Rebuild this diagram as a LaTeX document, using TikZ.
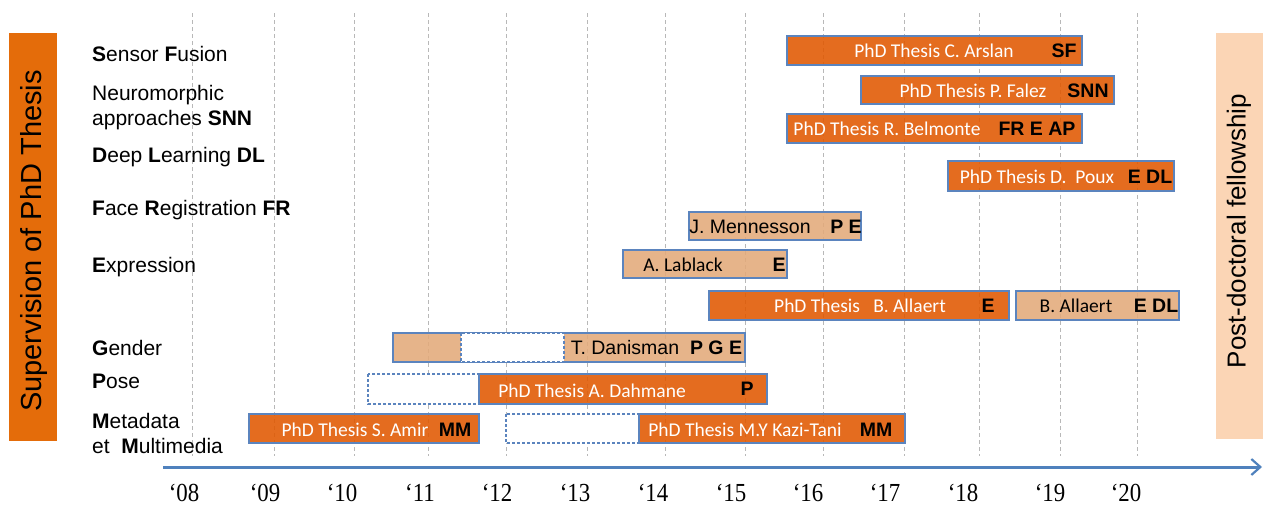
\documentclass[tikz,border=0pt]{standalone}
\usepackage{fontspec}
\setmainfont{Liberation Sans}
\newfontfamily\barfont{Carlito}
\newfontfamily\yearfont{Liberation Serif}
\usetikzlibrary{arrows.meta}
\definecolor{orng}{HTML}{E46C0A}
\definecolor{orngbase}{HTML}{E05800}
\definecolor{peachbase}{HTML}{E3AA7A}
\definecolor{lightpeach}{HTML}{FBD5B5}
\definecolor{bord}{HTML}{5B84BE}
\definecolor{axisblue}{HTML}{4F81BD}
\definecolor{gridgray}{HTML}{B8B8B8}
\begin{document}
\begin{tikzpicture}[x=1pt,y=-1pt,
  grid/.style={gridgray,line width=0.9pt,dash pattern=on 4pt off 3pt},
  obar/.style={fill=orngbase,fill opacity=0.88,draw=bord,line width=1.1pt},
  pbar/.style={fill=peachbase,fill opacity=0.88,draw=bord,line width=1.1pt},
  wbar/.style={fill=white,draw=bord,line width=1.1pt,dash pattern=on 3pt off 2pt},
  cat/.style={anchor=base west,inner sep=0pt,font=\fontsize{21}{24}\selectfont},
  wtxt/.style={anchor=base,inner sep=0pt,text=white,font=\barfont\fontsize{19.5}{22}\selectfont},
  ntxt/.style={anchor=base,inner sep=0pt,text=black,font=\barfont\fontsize{19.5}{22}\selectfont},
  atxt/.style={anchor=base,inner sep=0pt,text=black,font=\fontsize{19.5}{22}\selectfont},
  btxt/.style={anchor=base,inner sep=0pt,text=black,font=\bfseries\fontsize{19.5}{22}\selectfont},
  ytxt/.style={anchor=base,inner sep=0pt,font=\yearfont\fontsize{26}{30}\selectfont,xscale=0.88},
  axis/.style={axisblue,line width=3pt,-{Straight Barb[length=9pt,width=16pt,line width=2.2pt]}}
]
\useasboundingbox (0,0) rectangle (1265,506);

% side panels
\fill[orng] (9,33) rectangle (57,441);
\node[rotate=90,font=\fontsize{29}{32}\selectfont] (sup) at (34,241) {Supervision of PhD Thesis};
\fill[lightpeach] (1216,33) rectangle (1263,439);
\node[rotate=90,font=\fontsize{26}{30}\selectfont] (post) at (1239,231) {Post-doctoral fellowship};

% grid lines
\foreach \gx in {192,274,354,428,506,587,665,745,823,904,979,1060,1137}
  \draw[grid] (\gx,13) -- (\gx,456);

% category labels
\node[cat] (sf) at (92,61) {\textbf{S}ensor \textbf{F}usion};
\node[cat] (nm1) at (92,100) {Neuromorphic};
\node[cat] (nm2) at (92,125) {approaches \textbf{SNN}};
\node[cat] (dl) at (92,162) {\textbf{D}eep \textbf{L}earning \textbf{DL}};
\node[cat] (fr) at (92,215) {\textbf{F}ace \textbf{R}egistration \textbf{FR}};
\node[cat] (ex) at (92,272) {\textbf{E}xpression};
\node[cat] (ge) at (92,355) {\textbf{G}ender};
\node[cat] (po) at (92,388) {\textbf{P}ose};
\node[cat] (md1) at (92,428) {\textbf{M}etadata};
\node[cat] (md2) at (92,453) {et\ \ \textbf{M}ultimedia};

% bars
\draw[obar] (787,36) rectangle (1082,65);
\node[wtxt] (arslan) at (934,57.5) {PhD Thesis C. Arslan};
\node[btxt] (arslanT) at (1064,57.5) {SF};

\draw[obar] (861,76) rectangle (1114,104);
\node[wtxt] (falez) at (973,97) {PhD Thesis P. Falez};
\node[btxt] (falezT) at (1088,97) {SNN};

\draw[obar] (787,114) rectangle (1082,143);
\node[wtxt] (belmonte) at (887,135.5) {PhD Thesis R. Belmonte};
\node[btxt] (belmonteT) at (1037,135.5) {FR E AP};

\draw[obar] (948,161) rectangle (1174,191);
\node[wtxt] (poux) at (1037,183) {PhD Thesis D.\ \ Poux};
\node[btxt] (pouxT) at (1150,183) {E DL};

\draw[pbar] (689,212) rectangle (861,240);
\node[atxt] (menn) at (750,233) {J. Mennesson};
\node[btxt] (mennT) at (846,233) {P E};

\draw[pbar] (623,250) rectangle (787,278);
\node[ntxt] (lab) at (683,271) {A. Lablack};
\node[btxt] (labT) at (779,271) {E};

\draw[obar] (709,291) rectangle (1009,320);
\node[wtxt] (all) at (860,312.5) {PhD Thesis\ \ \ B. Allaert};
\node[btxt] (allT) at (988,312.5) {E};

\draw[pbar] (1016,291) rectangle (1179,320);
\node[ntxt] (allpd) at (1076,312.5) {B. Allaert};
\node[btxt] (allpdT) at (1156,312.5) {E DL};

\draw[pbar] (393,333) rectangle (745,362);
\draw[wbar] (461,333) rectangle (564,362);
\node[atxt] (dan) at (625,354.5) {T. Danisman};
\node[btxt] (danT) at (716,354.5) {P G E};

\draw[wbar] (368,374) rectangle (479,404);
\draw[obar] (479,374) rectangle (767,404);
\node[wtxt] (dah) at (592,397) {PhD Thesis A. Dahmane};
\node[btxt] (dahT) at (747,395) {P};

\draw[obar] (249,414) rectangle (479,443);
\node[wtxt] (amir) at (355,436) {PhD Thesis S. Amir};
\node[btxt] (amirT) at (455,436) {MM};

\draw[wbar] (506,414) rectangle (639,443);
\draw[obar] (639,414) rectangle (905,443);
\node[wtxt] (kazi) at (745,436) {PhD Thesis M.Y Kazi-Tani};
\node[btxt] (kaziT) at (876,436) {MM};

% time axis
\coordinate (axs) at (163,467);
\coordinate (axe) at (1262,467);
\draw[axis] (axs) -- (axe);

% years
\foreach \yx/\yl in {184/08,265/09,342/10,420/11,497/12,575/13,653/14,731/15,808/16,885/17,963/18,1050/19,1126/20}
  \node[ytxt] (y\yl) at (\yx,501) {‘\yl};
\end{tikzpicture}
\end{document}
